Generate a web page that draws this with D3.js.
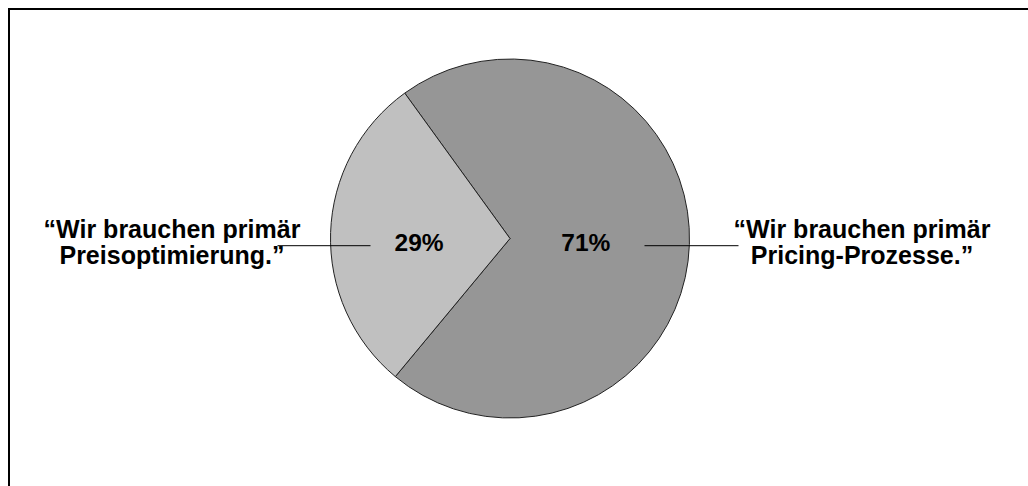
<!DOCTYPE html>
<html>
<head>
<meta charset="utf-8">
<script src="https://cdn.jsdelivr.net/npm/d3@7"></script>
<style>
  html, body { margin: 0; padding: 0; background: #fff; }
  svg { display: block; }
  text { font-family: "Liberation Sans", Arial, sans-serif; font-weight: bold; fill: #000; }
</style>
</head>
<body>
<svg id="chart" width="1028" height="486"></svg>
<script>
const categories = ["Pricing-Prozesse", "Preisoptimierung"];
const values = [71, 29];
const percentLabels = ["71%", "29%"];
const quoteLines = [
  ["\u201CWir brauchen primär", "Pricing-Prozesse.\u201D"],
  ["\u201CWir brauchen primär", "Preisoptimierung.\u201D"]
];
const colors = ["#969696", "#c0c0c0"];

const svg = d3.select("#chart");
const W = 1028, H = 486;

// frame (only top/left visible in reference)
svg.append("rect")
  .attr("x", 9).attr("y", 9)
  .attr("width", W + 20).attr("height", H + 20)
  .attr("fill", "none").attr("stroke", "#000").attr("stroke-width", 2);

const cx = 510, cy = 238.5, R = 179.5;
const startDeg = -35.9;

const pie = d3.pie().sort(null).value(d => d)
  .startAngle(startDeg * Math.PI / 180)
  .endAngle((startDeg + 360) * Math.PI / 180);
const arcs = pie(values);
const arc = d3.arc().innerRadius(0).outerRadius(R);

const g = svg.append("g").attr("transform", `translate(${cx},${cy})`);
g.selectAll("path.slice").data(arcs).join("path")
  .attr("class", "slice")
  .attr("d", arc)
  .attr("fill", (d, i) => colors[i])
  .attr("stroke", "#222")
  .attr("stroke-width", 1)
  .attr("stroke-linejoin", "round");

// leader lines (side: +1 right for slice 0, -1 left for slice 1)
const side = [1, -1];
const lineY = 245.7 - cy;
g.selectAll("line.leader").data(arcs).join("line")
  .attr("class", "leader")
  .attr("x1", (d, i) => side[i] * (R - (i === 0 ? 45 : 40)))
  .attr("x2", (d, i) => side[i] * (R + (i === 0 ? 49 : 53)))
  .attr("y1", lineY).attr("y2", lineY)
  .attr("stroke", "#000").attr("stroke-width", 1);

// percentage labels
const labelR = [0.423 * R, 0.507 * R];
g.selectAll("text.pct").data(arcs).join("text")
  .attr("class", "pct")
  .attr("x", (d, i) => d3.arc().innerRadius(labelR[i]).outerRadius(labelR[i]).centroid(d)[0])
  .attr("y", 250.7 - cy)
  .attr("text-anchor", "middle")
  .attr("font-size", 24.5)
  .text((d, i) => percentLabels[i]);

// quote labels
const quoteX = [862, 172];
const qt = svg.selectAll("text.quote").data(quoteLines).join("text")
  .attr("class", "quote")
  .attr("text-anchor", "middle")
  .attr("font-size", 25);
qt.selectAll("tspan").data((d, i) => d.map(s => ({ s, i }))).join("tspan")
  .attr("x", d => quoteX[d.i])
  .attr("y", (d, j) => 238.3 + j * 26)
  .text(d => d.s);
</script>
</body>
</html>
